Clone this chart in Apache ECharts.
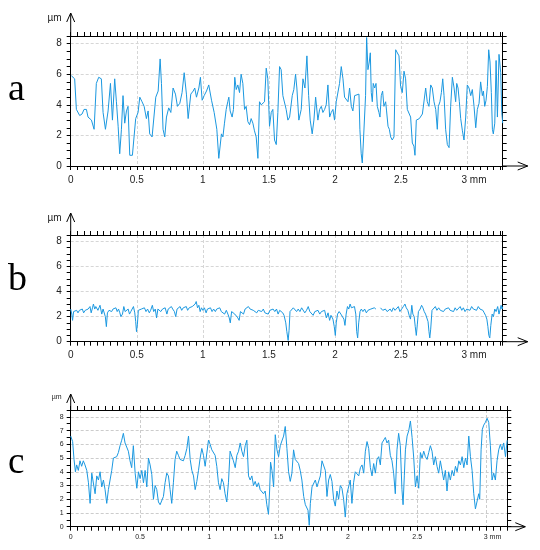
<!DOCTYPE html>
<html><head><meta charset="utf-8">
<script src="https://cdn.jsdelivr.net/npm/echarts@6/dist/echarts.min.js"></script>
<style>html,body{margin:0;padding:0;background:#fff}#c{width:540px;height:550px}</style>
</head><body><div id="c"></div>
<script>
// ---- data (x in mm, y in µm) ----
const profileA = [[0.005,5.9],[0.010,5.9],[0.030,5.7],[0.043,3.7],[0.056,3.6],[0.068,3.3],[0.086,3.4],[0.101,3.7],[0.119,3.7],[0.131,3.2],[0.157,3.0],[0.177,2.4],[0.194,5.4],[0.212,5.8],[0.232,5.7],[0.245,3.5],[0.263,2.4],[0.283,3.6],[0.301,5.4],[0.316,3.0],[0.333,5.7],[0.346,4.2],[0.359,2.6],[0.371,0.8],[0.384,2.4],[0.396,4.6],[0.409,2.8],[0.422,3.6],[0.434,3.9],[0.447,0.7],[0.467,0.7],[0.480,0.8],[0.492,3.1],[0.510,3.5],[0.523,4.5],[0.540,4.2],[0.556,3.9],[0.573,3.1],[0.586,3.6],[0.598,2.1],[0.616,1.9],[0.631,1.9],[0.644,4.5],[0.662,4.9],[0.677,7.0],[0.687,5.4],[0.699,2.4],[0.712,1.9],[0.725,3.2],[0.742,3.8],[0.758,3.5],[0.775,5.1],[0.793,4.7],[0.808,3.9],[0.826,4.1],[0.843,4.8],[0.859,6.1],[0.876,4.7],[0.889,3.1],[0.909,4.7],[0.927,4.9],[0.939,5.1],[0.952,4.5],[0.970,5.1],[0.982,5.8],[0.995,4.3],[1.010,4.6],[1.028,4.9],[1.045,5.3],[1.066,4.3],[1.086,3.5],
[1.106,2.4],[1.121,0.5],[1.131,0.4],[1.141,2.1],[1.152,1.9],[1.164,2.8],[1.177,3.7],[1.189,4.2],[1.197,4.5],[1.207,3.6],[1.222,3.2],[1.232,3.7],[1.242,5.8],[1.253,5.0],[1.265,5.3],[1.278,4.8],[1.290,6.0],[1.303,5.4],[1.316,3.7],[1.328,3.9],[1.341,2.9],[1.354,2.7],[1.366,3.1],[1.379,2.8],[1.391,2.3],[1.404,1.9],[1.417,0.5],[1.429,4.2],[1.442,4.0],[1.455,3.9],[1.467,4.2],[1.480,6.4],[1.492,5.7],[1.505,2.6],[1.518,3.5],[1.530,3.7],[1.543,1.7],[1.556,1.4],[1.568,3.5],[1.581,6.5],[1.593,6.3],[1.606,4.6],[1.619,4.5],[1.631,3.7],[1.644,3.0],[1.657,3.2],[1.677,4.6],[1.689,5.0],[1.702,6.0],[1.712,5.1],[1.727,3.0],[1.745,3.7],[1.758,5.7],[1.773,5.1],[1.788,7.2],[1.801,4.6],[1.813,3.0],[1.828,2.1],[1.841,3.0],[1.854,4.5],[1.871,3.0],[1.884,3.7],[1.897,3.9],[1.909,3.5],[1.922,3.7],[1.934,4.0],[1.947,5.3],[1.960,3.2],[1.972,3.5],[1.985,3.7],[1.997,3.0],[2.010,4.2],[2.023,4.2],[2.035,5.4],[2.048,6.5],[2.061,5.7],[2.073,4.5],[2.086,4.6],[2.099,4.2],[2.111,5.1],[2.124,3.9],[2.136,3.6],[2.149,4.6],[2.162,4.7],
[2.182,4.7],[2.189,2.4],[2.199,0.8],[2.207,0.2],[2.215,1.5],[2.225,1.6],[2.232,4.6],[2.240,8.4],[2.250,6.3],[2.260,6.8],[2.268,7.4],[2.275,4.8],[2.283,4.2],[2.290,5.4],[2.301,5.1],[2.311,5.4],[2.321,3.9],[2.333,3.5],[2.341,3.2],[2.351,4.6],[2.361,4.9],[2.371,3.9],[2.384,4.2],[2.391,3.6],[2.402,2.6],[2.412,2.4],[2.422,1.9],[2.434,1.7],[2.447,1.9],[2.460,7.6],[2.472,7.5],[2.485,7.2],[2.497,5.2],[2.510,4.8],[2.523,6.2],[2.535,5.7],[2.548,3.7],[2.561,3.6],[2.573,3.2],[2.586,1.5],[2.598,1.3],[2.606,0.7],[2.616,3.0],[2.629,2.9],[2.639,3.1],[2.649,3.0],[2.662,3.4],[2.674,3.5],[2.687,5.1],[2.699,4.2],[2.712,3.9],[2.725,5.3],[2.737,5.1],[2.750,4.2],[2.763,3.7],[2.775,2.4],[2.783,3.9],[2.795,4.2],[2.806,4.8],[2.816,5.7],[2.826,4.6],[2.838,2.4],[2.851,1.4],[2.864,1.2],[2.876,3.9],[2.889,5.8],[2.902,5.1],[2.914,4.2],[2.922,5.4],[2.932,5.1],[2.942,4.2],[2.952,3.1],[2.965,2.3],[2.977,1.7],[2.990,3.2],[3.002,5.3],[3.015,5.1],[3.028,4.6],[3.040,5.0],[3.053,3.9],[3.066,2.5],[3.078,3.7],[3.091,4.1],[3.103,5.5],[3.116,4.6],[3.124,4.9],[3.134,3.9],[3.144,4.3],[3.154,5.2],[3.164,7.6],[3.174,6.8],[3.184,4.8],[3.192,2.4],[3.199,2.1],[3.210,2.8],[3.220,6.9],[3.230,3.2],[3.242,7.3],[3.255,6.1],[3.263,3.5],[3.270,2.8]];

const profileB = [[0.000,2.6],[0.008,2.2],[0.014,1.7],[0.022,2.4],[0.032,2.3],[0.045,2.5],[0.055,2.3],[0.066,2.5],[0.076,2.4],[0.088,2.6],[0.098,2.3],[0.110,2.5],[0.121,2.4],[0.132,2.6],[0.146,2.8],[0.155,2.3],[0.165,2.7],[0.172,3.0],[0.182,2.6],[0.190,2.8],[0.197,2.9],[0.206,2.5],[0.214,2.7],[0.222,2.9],[0.235,2.2],[0.245,2.6],[0.253,2.5],[0.262,2.0],[0.270,1.2],[0.278,2.3],[0.290,2.5],[0.298,2.6],[0.310,2.4],[0.320,2.6],[0.332,2.5],[0.342,2.7],[0.352,2.4],[0.362,2.6],[0.372,2.3],[0.380,2.0],[0.392,2.2],[0.402,2.8],[0.412,2.4],[0.425,2.3],[0.435,2.6],[0.445,2.2],[0.455,2.4],[0.465,2.3],[0.475,2.8],[0.485,2.3],[0.492,1.6],[0.498,0.8],[0.505,1.4],[0.512,2.5],[0.525,2.4],[0.535,2.6],[0.548,2.5],[0.558,2.7],[0.570,2.4],[0.582,2.6],[0.595,2.3],[0.605,2.5],[0.618,2.9],[0.628,2.4],[0.640,2.6],[0.650,1.9],[0.660,2.6],[0.672,2.7],[0.682,2.4],[0.695,2.6],[0.705,2.5],[0.715,2.7],[0.728,2.2],[0.738,2.6],[0.750,2.5],[0.762,2.8],[0.772,2.6],[0.785,2.4],[0.795,2.0],[0.805,2.6],[0.818,2.5],[0.828,2.8],[0.840,2.5],[0.852,2.7],[0.862,2.6],[0.875,2.8],[0.885,2.5],[0.897,2.7],[0.908,2.6],[0.920,2.8],[0.930,2.7],[0.942,3.0],[0.950,3.2],[0.960,2.7],[0.970,2.9],[0.980,2.4],[0.990,2.7],[1.000,2.5],[1.012,2.7],[1.025,2.3],[1.035,2.6],[1.048,2.5],[1.058,2.7],[1.070,2.4],[1.082,2.6],[1.095,2.4],[1.105,2.6],[1.118,2.5],[1.128,2.7],[1.140,2.4],[1.152,2.5],[1.165,2.2],[1.178,2.5],[1.190,2.2],[1.200,1.9],[1.208,1.5],[1.218,2.4],[1.230,2.5],[1.242,2.2],[1.255,2.3],[1.265,1.9],[1.275,1.7],[1.285,2.4],[1.295,2.5],[1.308,2.2],[1.320,2.6],[1.332,2.5],[1.345,2.8],[1.358,2.6],[1.370,2.7],[1.382,2.5],[1.395,2.6],[1.408,2.3],[1.420,2.5],[1.432,2.6],[1.445,2.4],[1.458,2.6],[1.470,2.3],[1.482,2.4],[1.495,2.2],[1.508,2.5],[1.520,2.5],[1.532,2.6],[1.545,2.4],[1.558,2.6],[1.570,2.2],[1.582,2.5],[1.595,2.4],[1.605,2.3],[1.615,2.1],[1.628,1.5],[1.636,0.8],[1.646,0.1],[1.653,0.9],[1.660,2.4],[1.672,2.5],[1.685,2.7],[1.698,2.6],[1.710,2.4],[1.722,2.6],[1.735,2.4],[1.748,2.7],[1.760,2.6],[1.772,2.3],[1.785,2.5],[1.798,2.8],[1.810,2.4],[1.822,2.5],[1.835,2.1],[1.848,2.4],[1.860,2.3],[1.872,2.5],[1.885,2.2],[1.898,2.4],[1.910,2.3],[1.922,2.5],[1.935,1.9],[1.948,2.3],[1.960,1.7],[1.970,2.1],[1.985,1.8],[1.995,1.2],[2.003,0.5],[2.010,1.5],[2.020,2.2],[2.032,2.4],[2.045,2.2],[2.058,2.3],[2.068,1.8],[2.076,1.3],[2.085,2.2],[2.095,2.8],[2.105,2.6],[2.115,3.0],[2.125,2.7],[2.135,2.6],[2.148,2.8],[2.158,2.2],[2.165,0.8],[2.172,0.3],[2.180,1.5],[2.190,2.4],[2.200,2.6],[2.212,2.4],[2.225,2.6],[2.238,2.3],[2.250,2.5],[2.262,2.4],[2.272,2.6],[2.285,2.5],[2.298,2.7],[2.310,2.6],[2.318,null],[2.345,2.7],[2.352,2.6],[2.362,2.5],[2.372,2.4],[2.382,2.6],[2.395,2.4],[2.405,2.5],[2.418,2.6],[2.430,2.4],[2.442,2.7],[2.455,2.5],[2.468,2.6],[2.480,2.8],[2.492,2.4],[2.505,2.6],[2.518,2.8],[2.530,3.0],[2.540,2.7],[2.552,2.5],[2.562,2.1],[2.572,1.8],[2.582,2.9],[2.590,2.2],[2.600,2.0],[2.608,1.2],[2.616,0.5],[2.624,1.4],[2.632,2.4],[2.645,2.6],[2.656,2.9],[2.666,2.7],[2.676,2.4],[2.686,2.2],[2.695,2.1],[2.705,1.6],[2.712,0.8],[2.718,0.3],[2.725,1.0],[2.735,2.5],[2.748,2.6],[2.760,2.8],[2.772,2.5],[2.785,2.7],[2.798,2.5],[2.810,2.6],[2.822,2.4],[2.835,2.6],[2.848,2.5],[2.860,2.7],[2.872,2.5],[2.885,2.6],[2.898,2.4],[2.910,2.7],[2.922,2.5],[2.935,2.6],[2.948,2.8],[2.960,2.5],[2.972,2.7],[2.985,2.4],[2.998,2.6],[3.010,2.7],[3.022,2.5],[3.035,2.8],[3.048,2.6],[3.060,2.7],[3.072,2.5],[3.085,2.8],[3.098,2.6],[3.110,2.7],[3.120,2.5],[3.130,2.3],[3.140,2.1],[3.150,1.8],[3.158,1.2],[3.165,0.5],[3.172,0.3],[3.180,1.3],[3.190,2.2],[3.200,2.0],[3.210,2.6],[3.220,2.4],[3.232,2.8],[3.242,2.2],[3.250,2.1],[3.258,2.9],[3.265,2.6],[3.270,2.8]];

const profileC = [[0.000,6.6],[0.014,6.2],[0.024,4.9],[0.034,4.0],[0.043,4.5],[0.055,4.1],[0.067,4.8],[0.079,4.4],[0.091,4.8],[0.103,4.5],[0.116,4.1],[0.128,3.2],[0.140,1.7],[0.152,3.9],[0.164,4.0],[0.176,2.4],[0.188,3.7],[0.200,3.4],[0.212,4.0],[0.224,2.9],[0.236,3.4],[0.248,2.7],[0.260,1.7],[0.272,2.7],[0.284,2.8],[0.296,4.1],[0.308,5.0],[0.320,4.9],[0.332,5.1],[0.344,5.4],[0.356,5.9],[0.368,6.3],[0.380,6.8],[0.392,6.1],[0.404,6.0],[0.416,5.5],[0.428,4.8],[0.440,4.3],[0.452,5.9],[0.465,3.9],[0.477,2.8],[0.489,4.0],[0.501,3.5],[0.513,4.1],[0.525,3.2],[0.537,4.1],[0.549,2.9],[0.561,5.0],[0.573,4.5],[0.585,3.8],[0.597,2.0],[0.609,3.0],[0.621,2.7],[0.633,1.8],[0.645,1.6],[0.657,1.5],[0.669,2.2],[0.681,3.2],[0.693,3.9],[0.705,3.7],[0.717,2.7],[0.729,1.7],[0.741,3.2],[0.753,4.9],[0.765,5.5],[0.777,5.2],[0.789,4.9],[0.801,5.0],[0.813,4.8],[0.826,5.2],[0.838,5.7],[0.850,6.6],[0.862,4.9],[0.874,4.1],[0.886,3.7],[0.898,2.7],[0.910,3.3],[0.922,4.1],[0.934,5.0],[0.946,5.7],[0.958,5.2],[0.970,4.4],[0.982,4.5],[0.994,6.3],[1.006,6.0],[1.018,5.6],[1.030,5.6],[1.042,5.2],[1.054,4.4],[1.066,3.2],[1.078,2.7],[1.090,3.5],[1.102,3.2],[1.114,2.4],[1.126,1.8],[1.138,3.2],[1.150,5.5],[1.162,5.6],[1.174,4.8],[1.187,4.3],[1.199,5.2],[1.211,5.5],[1.223,6.1],[1.235,5.5],[1.247,5.1],[1.259,5.9],[1.271,6.3],[1.283,3.7],[1.295,3.4],[1.307,3.7],[1.319,3.0],[1.331,3.3],[1.343,2.9],[1.355,3.2],[1.367,2.7],[1.379,2.8],[1.391,2.4],[1.403,2.6],[1.415,1.6],[1.427,0.9],[1.435,2.6],[1.442,4.7],[1.452,4.1],[1.464,2.9],[1.476,6.7],[1.488,5.6],[1.500,5.1],[1.512,5.9],[1.524,6.0],[1.536,6.6],[1.548,7.3],[1.560,5.7],[1.572,4.0],[1.584,3.3],[1.596,3.9],[1.608,5.6],[1.620,4.9],[1.632,4.8],[1.644,4.6],[1.656,4.1],[1.668,3.4],[1.681,2.2],[1.693,1.6],[1.705,1.7],[1.712,1.2],[1.721,0.1],[1.729,1.7],[1.741,2.9],[1.753,2.8],[1.765,3.4],[1.777,2.9],[1.789,3.0],[1.801,3.7],[1.813,4.8],[1.825,4.9],[1.837,4.1],[1.849,2.2],[1.861,3.4],[1.873,3.8],[1.885,3.3],[1.897,2.0],[1.909,1.5],[1.921,2.6],[1.933,2.0],[1.945,3.0],[1.957,2.8],[1.969,2.0],[1.981,0.7],[1.993,2.4],[2.005,2.9],[2.017,3.4],[2.029,1.7],[2.041,3.2],[2.053,4.0],[2.066,4.1],[2.078,3.7],[2.090,4.3],[2.102,4.5],[2.114,3.9],[2.126,5.5],[2.138,6.2],[2.150,5.7],[2.162,4.3],[2.174,3.7],[2.186,4.6],[2.198,3.9],[2.210,4.9],[2.222,5.1],[2.234,4.5],[2.246,6.1],[2.258,6.0],[2.270,6.5],[2.282,6.1],[2.294,6.3],[2.306,5.2],[2.318,4.8],[2.330,3.9],[2.342,2.4],[2.354,5.6],[2.366,6.8],[2.378,5.9],[2.390,2.7],[2.398,1.6],[2.407,3.7],[2.415,5.6],[2.427,6.6],[2.439,7.0],[2.451,7.7],[2.463,6.5],[2.475,5.0],[2.487,2.9],[2.499,3.7],[2.511,2.8],[2.523,5.4],[2.535,5.0],[2.547,5.5],[2.559,5.1],[2.571,4.9],[2.583,5.4],[2.595,5.9],[2.607,5.5],[2.619,4.5],[2.631,5.1],[2.643,4.4],[2.655,3.9],[2.667,4.8],[2.679,4.1],[2.691,3.4],[2.703,4.1],[2.715,2.6],[2.727,4.0],[2.739,3.4],[2.752,4.1],[2.764,3.7],[2.776,4.4],[2.788,4.0],[2.800,4.8],[2.812,4.5],[2.824,5.1],[2.836,4.3],[2.848,5.0],[2.860,4.5],[2.872,6.6],[2.884,5.1],[2.896,4.1],[2.908,2.4],[2.920,1.3],[2.932,1.2],[2.944,2.4],[2.951,2.0],[2.961,5.6],[2.970,7.1],[2.980,7.4],[2.992,7.6],[3.004,7.9],[3.016,7.6],[3.028,5.9],[3.040,3.4],[3.052,3.9],[3.064,3.4],[3.076,4.8],[3.088,5.6],[3.100,6.0],[3.112,5.6],[3.124,6.1],[3.137,5.1],[3.149,6.3]];

const profiles = [profileA, profileB, profileC];
const panelLetters = ['a', 'b', 'c'];
const xMaxes = [3.27, 3.27, 3.15];
const yMax = 8.5;
const yLabelSteps = [2, 2, 1];
const xLabelStep = 0.5;
const xMinorStep = 0.05;
const yMinorStep = 0.5;
const unitX = 'mm';
const unitY = 'µm';

// ---- layout / style ----
const grids = [
  {left: 70.7, top: 36, width: 432, height: 130},
  {left: 70.7, top: 235, width: 432, height: 106.7},
  {left: 70.7, top: 410, width: 436.6, height: 116.7}
];
const fontSizes = [10, 10, 7];
const xLabelMargins = [9, 9, 6.5];
const yLabelMargins = [9, 9, 7];
const unitPad = [14, 14, 12];
const yArrowExt = [23, 22, 16];
const xArrowExt = [25, 25, 18];
const letterY = [90, 280, 463];
const letterSize = [38, 38, 37];
const lineColor = '#1b98e0';
const gridColors = ['#d6d6d6', '#d6d6d6', '#cccccc'];
const SANS = '"Liberation Sans", Arial, sans-serif';
const SERIF = '"Liberation Serif", "Times New Roman", serif';

function near(v, step) { const k = v / step; return Math.abs(k - Math.round(k)) < 1e-6; }

const xAxes = [], yAxes = [], series = [];
profiles.forEach((data, i) => {
  const xMax = xMaxes[i];
  const fs = fontSizes[i];
  const lastLab = Math.floor(xMax / xLabelStep + 1e-9) * xLabelStep;
  const baseX = {
    gridIndex: i, type: 'value', min: 0, max: xMax, interval: xMinorStep,
    axisLine: {show: true, onZero: false, lineStyle: {color: '#000', width: 1}},
    axisTick: {show: true, length: 4, lineStyle: {color: '#000', width: 1}},
    splitLine: {show: false}
  };
  xAxes.push(Object.assign({}, baseX, {
    position: 'bottom',
    axisLabel: {
      show: true, fontSize: fs, color: '#222', fontFamily: SANS, margin: xLabelMargins[i],
      formatter: v => {
        if (!near(v, xLabelStep) || v > xMax - 1e-9 && !near(xMax, xLabelStep)) return '';
        const s = String(Math.round(v * 10) / 10);
        if (Math.abs(v - lastLab) < 1e-6) return '{n|' + s + '}{u| ' + unitX + '}';
        return s;
      },
      rich: {
        n: {fontSize: fs, color: '#222', fontFamily: SANS, padding: [0, 0, 0, unitPad[i]]},
        u: {fontSize: fs, color: '#222', fontFamily: SANS}
      }
    }
  }));
  xAxes.push(Object.assign({}, baseX, {position: 'top', axisLabel: {show: false}}));
  xAxes.push({
    gridIndex: i, type: 'value', min: 0, max: xMax, interval: xLabelStep, position: 'bottom',
    axisLine: {show: false, onZero: false}, axisTick: {show: false}, axisLabel: {show: false},
    splitLine: {show: true, lineStyle: {color: gridColors[i], type: [3, 2], width: 1}}
  });

  const baseY = {
    gridIndex: i, type: 'value', min: 0, max: yMax, interval: yMinorStep,
    axisLine: {show: true, onZero: false, lineStyle: {color: '#000', width: 1}},
    axisTick: {show: true, length: 4, lineStyle: {color: '#000', width: 1}},
    splitLine: {show: false}
  };
  yAxes.push(Object.assign({}, baseY, {
    position: 'left',
    axisLabel: {
      show: true, fontSize: fs, color: '#222', fontFamily: SANS, margin: yLabelMargins[i],
      formatter: v => (near(v, yLabelSteps[i]) ? String(Math.round(v)) : '')
    }
  }));
  yAxes.push(Object.assign({}, baseY, {position: 'right', axisLabel: {show: false}}));
  yAxes.push({
    gridIndex: i, type: 'value', min: 0, max: yMax, interval: yLabelSteps[i], position: 'left',
    axisLine: {show: false, onZero: false}, axisTick: {show: false}, axisLabel: {show: false},
    splitLine: {show: true, lineStyle: {color: gridColors[i], type: [3, 2], width: 1}}
  });

  series.push({
    type: 'line', xAxisIndex: 3 * i, yAxisIndex: 3 * i, data: data,
    symbol: 'none', showSymbol: false, connectNulls: false, silent: true,
    lineStyle: {color: lineColor, width: 1}, z: 5
  });
});

const chart = echarts.init(document.getElementById('c'), null, {renderer: 'canvas'});
chart.setOption({
  animation: false,
  backgroundColor: '#fff',
  grid: grids,
  xAxis: xAxes,
  yAxis: yAxes,
  series: series
});

// arrows, unit labels and panel letters
const graphics = [];
profiles.forEach((d, i) => {
  const po = chart.convertToPixel({seriesIndex: i}, [0, 0]);
  const pt = chart.convertToPixel({seriesIndex: i}, [0, yMax]);
  const pr = chart.convertToPixel({seriesIndex: i}, [xMaxes[i], 0]);
  const tipY = pt[1] - yArrowExt[i];
  const tipX = pr[0] + xArrowExt[i];
  const fs = fontSizes[i];
  const st = {stroke: '#000', lineWidth: 1, fill: null};
  graphics.push({type: 'polyline', shape: {points: [[po[0], pt[1]], [po[0], tipY]]}, style: st, silent: true});
  graphics.push({type: 'polyline', shape: {points: [[po[0] - 4, tipY + 9], [po[0], tipY], [po[0] + 4, tipY + 9]]}, style: st, silent: true});
  graphics.push({type: 'polyline', shape: {points: [[pr[0], po[1]], [tipX, po[1]]]}, style: st, silent: true});
  graphics.push({type: 'polyline', shape: {points: [[tipX - 10, po[1] - 4], [tipX, po[1]], [tipX - 10, po[1] + 4]]}, style: st, silent: true});
  graphics.push({type: 'text', silent: true, style: {
    text: unitY, x: po[0] - 9, y: tipY + (i === 2 ? 3 : 5),
    font: fs + 'px ' + SANS, fill: '#222', align: 'right', verticalAlign: 'middle',
    textAlign: 'right', textVerticalAlign: 'middle'}});
  graphics.push({type: 'text', silent: true, style: {
    text: panelLetters[i], x: 8, y: letterY[i],
    font: letterSize[i] + 'px ' + SERIF, fill: '#000', align: 'left', verticalAlign: 'middle',
    textAlign: 'left', textVerticalAlign: 'middle'}});
});
chart.setOption({graphic: graphics});
</script>
</body></html>
